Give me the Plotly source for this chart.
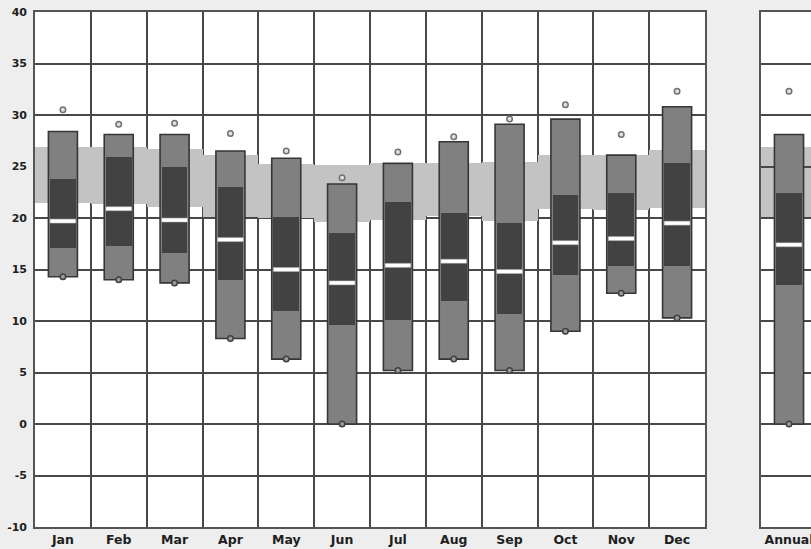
import plotly.graph_objects as go

months = ["Jan", "Feb", "Mar", "Apr", "May", "Jun", "Jul", "Aug", "Sep", "Oct", "Nov", "Dec"]
band_low = [21.5, 21.4, 21.1, 20.1, 20.0, 19.6, 19.8, 20.2, 19.7, 20.9, 20.8, 21.0]
band_high = [26.9, 26.9, 26.7, 26.1, 25.2, 25.1, 25.3, 25.3, 25.4, 26.1, 26.1, 26.6]
p_low = [14.3, 14.0, 13.7, 8.3, 6.3, 0.0, 5.2, 6.3, 5.2, 9.0, 12.7, 10.3]
q1 = [17.1, 17.3, 16.6, 14.0, 11.0, 9.6, 10.1, 11.9, 10.7, 14.5, 15.3, 15.3]
median = [19.7, 20.9, 19.8, 17.9, 15.0, 13.7, 15.4, 15.8, 14.8, 17.6, 18.0, 19.5]
q3 = [23.8, 25.95, 25.0, 23.0, 20.1, 18.5, 21.6, 20.5, 19.5, 22.2, 22.4, 25.3]
p_high = [28.4, 28.1, 28.1, 26.5, 25.8, 23.3, 25.3, 27.4, 29.1, 29.6, 26.1, 30.8]
v_max = [30.5, 29.1, 29.2, 28.2, 26.5, 23.9, 26.4, 27.9, 29.6, 31.0, 28.1, 32.3]
v_min = [14.3, 14.0, 13.7, 8.3, 6.3, 0.0, 5.2, 6.3, 5.2, 9.0, 12.7, 10.3]

annual_cat = ["Annual"]
a_band_low = [20.1]
a_band_high = [26.9]
a_low = [0.0]
a_q1 = [13.5]
a_median = [17.4]
a_q3 = [22.4]
a_high = [28.1]
a_max = [32.3]
a_min = [0.0]

y_ticks = [-10, -5, 0, 5, 10, 15, 20, 25, 30, 35, 40]
y_tick_labels = ["-10", "-5", "0", "5", "10", "15", "20", "25", "30", "35", "40"]

BAND = "#c3c3c3"
OUTER = "#808080"
INNER = "#424242"
EDGE = "#363636"
GRID = "#484848"
MED_H = 0.38

fig = go.Figure()


def add_boxes(cats, lo, a, med, b, hi, mx, mn, xa, ya, band=None):
    if band is not None:
        bl, bh = band
        fig.add_trace(go.Bar(x=cats, base=bl, y=[h - l for l, h in zip(bl, bh)], width=1.0,
                             marker=dict(color=BAND, line=dict(width=0)), xaxis=xa, yaxis=ya,
                             hoverinfo="skip"))
    fig.add_trace(go.Bar(x=cats, base=lo, y=[h - l for l, h in zip(lo, hi)], width=0.52,
                         marker=dict(color=OUTER, line=dict(color=EDGE, width=1.6)),
                         xaxis=xa, yaxis=ya, hoverinfo="skip"))
    fig.add_trace(go.Bar(x=cats, base=a, y=[h - l for l, h in zip(a, b)], width=0.46,
                         marker=dict(color=INNER, line=dict(width=0)),
                         xaxis=xa, yaxis=ya, hoverinfo="skip"))
    fig.add_trace(go.Bar(x=cats, base=[m - MED_H / 2 for m in med], y=[MED_H] * len(med), width=0.46,
                         marker=dict(color="white", line=dict(color="#bbbbbb", width=0.5)),
                         xaxis=xa, yaxis=ya, hoverinfo="skip"))
    fig.add_trace(go.Scatter(x=cats, y=mx, mode="markers",
                             marker=dict(symbol="circle", size=5.5, color="#e0e0e0",
                                         line=dict(color="#707070", width=1.5)),
                             xaxis=xa, yaxis=ya, hoverinfo="skip"))
    fig.add_trace(go.Scatter(x=cats, y=mn, mode="markers",
                             marker=dict(symbol="circle", size=5.5, color="#9a9a9a",
                                         line=dict(color="#404040", width=1.5)),
                             xaxis=xa, yaxis=ya, hoverinfo="skip"))


add_boxes(months, p_low, q1, median, q3, p_high, v_max, v_min, "x", "y",
          band=(band_low, band_high))
add_boxes(annual_cat, a_low, a_q1, a_median, a_q3, a_high, a_max, a_min, "x2", "y2")

# annual band sits beneath the grid lines
fig.add_shape(type="rect", xref="x2", yref="y2", x0=-0.5, x1=0.5,
              y0=a_band_low[0], y1=a_band_high[0], fillcolor=BAND, line=dict(width=0),
              layer="below")

W, H = 811, 549
yfont = dict(family="DejaVu Sans, Verdana, sans-serif", size=11, color="#1e1e1e", weight="bold")
xfont = dict(family="DejaVu Sans, Verdana, sans-serif", size=12.5, color="#1e1e1e", weight="bold")

common_y = dict(range=[-10, 40], tickvals=y_ticks, ticktext=y_tick_labels, showgrid=True,
                gridcolor=GRID, gridwidth=2,
                zeroline=False, showline=True, linecolor="#555555", linewidth=1.8, mirror=True,
                ticks="outside", ticklen=4, tickcolor="rgba(0,0,0,0)",
                automargin=False, fixedrange=True)
common_x = dict(type="category", tickson="boundaries", showgrid=True, gridcolor=GRID, gridwidth=2,
                showline=True, linecolor="#555555", linewidth=1.8, mirror=True,
                ticks="outside", ticklen=3, tickcolor="rgba(0,0,0,0)",
                automargin=False, fixedrange=True, tickfont=xfont)

fig.update_layout(
    width=W, height=H, autosize=False,
    margin=dict(l=0, r=0, t=12, b=22),
    paper_bgcolor="#eeeeee", plot_bgcolor="white",
    barmode="overlay", bargap=0, showlegend=False, hovermode=False,
    xaxis=dict(domain=[35 / W, 705 / W], range=[-0.5, 11.5], anchor="y", **common_x),
    yaxis=dict(domain=[0, 1], anchor="x", tickfont=yfont, showticklabels=True, **common_y),
    xaxis2=dict(domain=[761 / W, 1], range=[-0.5, 0.393], anchor="y2", **common_x),
    yaxis2=dict(domain=[0, 1], anchor="x2", showticklabels=False, **common_y),
)

fig.write_html(
    "out.html",
    config={"displayModeBar": False, "staticPlot": True},
    post_script="document.body.style.margin='0';document.body.style.padding='0';"
                "document.body.style.background='#eeeeee';document.body.style.overflow='hidden';",
)
